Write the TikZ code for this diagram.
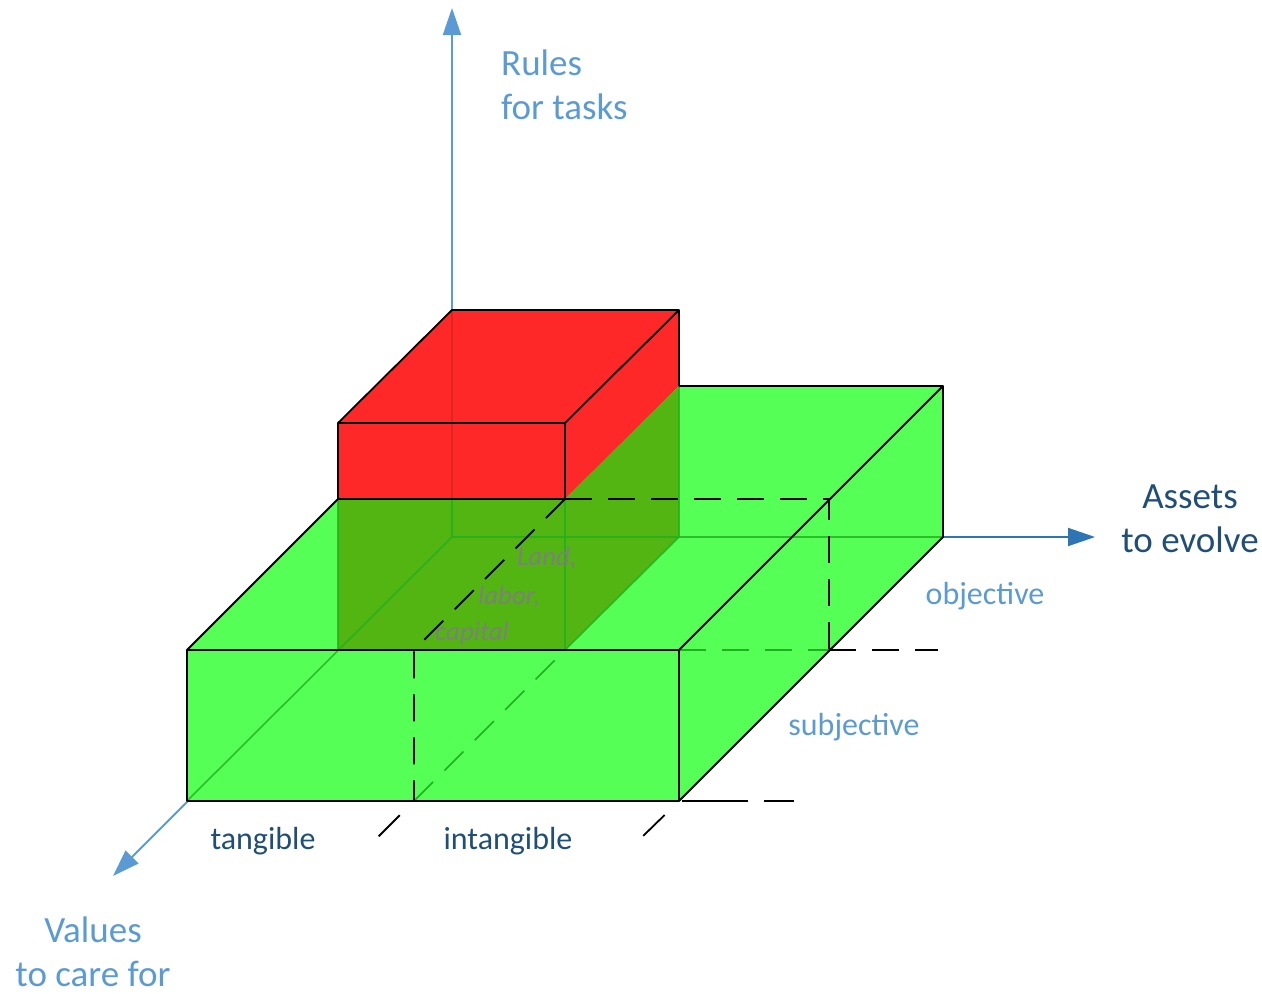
\documentclass[tikz,border=0pt]{standalone}
\usepackage{fontspec}
\setmainfont{Carlito}
\usetikzlibrary{arrows.meta}
\definecolor{lblue}{HTML}{5B9BD5}
\definecolor{mblue}{HTML}{2E75B6}
\definecolor{dblue}{HTML}{1F4E79}
\definecolor{gbright}{HTML}{55FF55}
\definecolor{gdark}{HTML}{52B512}
\definecolor{gline}{HTML}{1FB01F}
\definecolor{rbox}{HTML}{FF2828}
\definecolor{tgray}{HTML}{7F7F7F}
\tikzset{
  axis/.style={line width=2pt, -{Triangle[length=27pt,width=18pt]}},
  edge/.style={draw=black, line width=1.8pt, line join=round},
  hid/.style={draw=gline, line width=1.6pt, opacity=0.8},
  dsh/.style={draw=black, line width=1.8pt, dash pattern=on 27pt off 16pt},
  gdsh/.style={draw=gline, line width=1.6pt, dash pattern=on 27pt off 16pt},
  biglab/.style={font=\fontsize{37}{44}\selectfont, inner sep=0pt, align=center},
  smlab/.style={font=\fontsize{32}{38}\selectfont, inner sep=0pt},
  ital/.style={font=\fontsize{27}{30}\selectfont\itshape, text=tgray, inner sep=0pt}
}
\begin{document}
\begin{tikzpicture}[x=1pt,y=-1pt]
\useasboundingbox (0,0) rectangle (1262,994);
% axes
\coordinate (O) at (452,537);
\coordinate (Ztip) at (452,8);
\coordinate (Xtip) at (1095,537);
\coordinate (Ytip) at (113,876);
\draw[axis, lblue] (O) -- (Ztip);
\draw[axis, mblue] (O) -- (Xtip);
\draw[axis, lblue] (O) -- (Ytip);
% green box points
\coordinate (G1) at (187,801);
\coordinate (G2) at (679,801);
\coordinate (G3) at (679,650);
\coordinate (G4) at (187,650);
\coordinate (G5) at (452,386);
\coordinate (G6) at (943,386);
\coordinate (G7) at (943,537);
% red box points
\coordinate (R1) at (338,423);
\coordinate (R2) at (565,423);
\coordinate (R3) at (679,310);
\coordinate (R4) at (452,310);
\coordinate (R5) at (338,499);
\coordinate (R6) at (565,499);
\coordinate (R7) at (679,386);
\coordinate (R8) at (338,650);
\coordinate (R9) at (565,650);
\coordinate (R10) at (679,537);
% green faces
\fill[gbright] (G4) -- (G3) -- (G2) -- (G1) -- cycle;
\fill[gbright] (G4) -- (G5) -- (G6) -- (G3) -- cycle;
\fill[gbright] (G3) -- (G6) -- (G7) -- (G2) -- cycle;
% red upper part
\fill[rbox] (R1) -- (R2) -- (R6) -- (R5) -- cycle;
\fill[rbox] (R1) -- (R4) -- (R3) -- (R2) -- cycle;
\fill[rbox] (R2) -- (R3) -- (R7) -- (R6) -- cycle;
% red box inside green
\fill[gdark] (R5) -- (R6) -- (R9) -- (R8) -- cycle;
\fill[gdark] (R6) -- (R7) -- (R10) -- (R9) -- cycle;
% hidden lines
\draw[black, opacity=0.12, line width=1.8pt] (R4) -- (452,499);
\draw[hid] (452,499) -- (O) -- (G7);
\draw[hid] (O) -- (G1);
\draw[hid] (R7) -- (R10) -- (R9);
\draw[hid] (R5) -- (R8);
\draw[hid] (R6) -- (R9);
\draw[gdsh] (G3) -- (829,650);
\draw[gdsh] (414,801) -- (R9);
% outlines
\draw[edge] (G4) -- (G3) -- (G2) -- (G1) -- cycle;
\draw[edge] (G3) -- (G6) -- (G7) -- (G2);
\draw[edge] (G4) -- (R5);
\draw[edge] (R7) -- (G6);
\draw[edge] (R5) -- (R1) -- (R4) -- (R3) -- (R7);
\draw[edge] (R1) -- (R2) -- (R3);
\draw[edge] (R2) -- (R6);
\draw[edge] (R5) -- (R6);
% dashed division lines
\coordinate (D1) at (829,499);
\coordinate (D2) at (829,650);
\coordinate (D3) at (938,650);
\coordinate (D4) at (414,650);
\coordinate (D5) at (414,801);
\coordinate (D6) at (376,839);
\coordinate (D7) at (640,839);
\coordinate (D8) at (795,801);
\draw[dsh] (R6) -- (D1) -- (D2);
\draw[dsh] (D2) -- (D3);
\draw[dsh] (R6) -- (D4) -- (D5);
\draw[dsh, dash pattern=on 0pt off 20pt on 30pt off 40pt] (D5) -- (D6);
\draw[dsh, dash pattern=on 0pt off 20pt on 30pt off 40pt] (G2) -- (D7);
\draw[dsh, dash pattern=on 0pt off 3pt on 66pt off 16pt on 30pt off 20pt] (G2) -- (D8);
% labels
\node[biglab, text=lblue, align=left, anchor=west] (lz) at (501,85) {Rules\\for tasks};
\node[biglab, text=dblue] (lx) at (1190,519) {Assets\\to evolve};
\node[biglab, text=lblue] (ly) at (93,952) {Values\\to care for};
\node[smlab, text=lblue] (lobj) at (985,596) {objective};
\node[smlab, text=lblue] (lsub) at (854,727) {subjective};
\node[smlab, text=dblue] (ltan) at (263,841) {tangible};
\node[smlab, text=dblue] (lint) at (508,841) {intangible};
\node[ital] (lland) at (547,558) {Land,};
\node[ital] (llab) at (509,597) {labor,};
\node[ital] (lcap) at (472,633) {capital};
\end{tikzpicture}
\end{document}
